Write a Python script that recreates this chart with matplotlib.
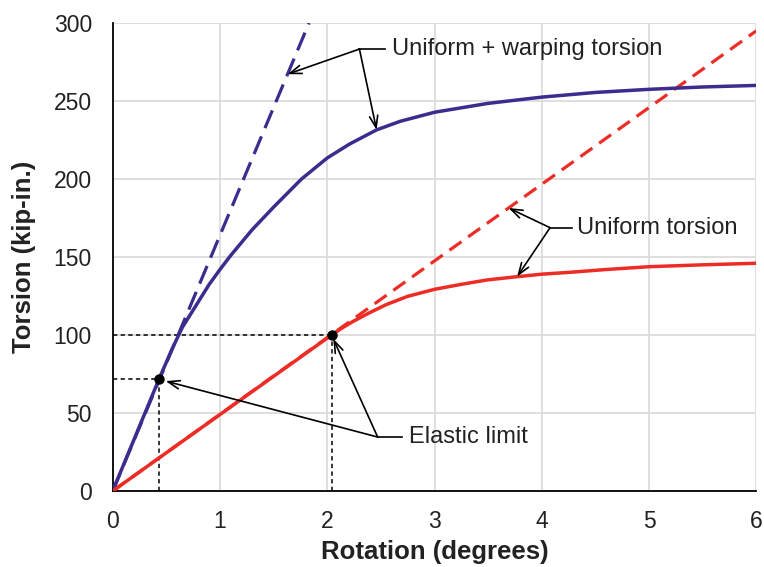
import numpy as np
import matplotlib
matplotlib.use("Agg")
import matplotlib.pyplot as plt

plt.rcParams['font.family'] = ['Liberation Sans', 'DejaVu Sans']

# Uniform + warping torsion (solid) and its elastic extension (dashed)
theta_uw = [0, 0.431, 0.55, 0.65, 0.8, 0.9, 1.0, 1.1, 1.3, 1.5, 1.76, 2.0, 2.21,
            2.46, 2.68, 3.0, 3.5, 4.0, 4.5, 5.0, 5.5, 6.0]
torsion_uw = [0, 71.6, 90.5, 105, 121.5, 132.5, 142, 151, 167.5, 182, 200, 213.5, 222.5,
              231.5, 237, 242.8, 248.5, 252.5, 255.5, 257.5, 259, 260]
theta_uw_el = [0, 1.83]
torsion_uw_el = [0, 300]

# Uniform torsion (solid) and its elastic extension (dashed)
theta_u = [0, 2.04, 2.14, 2.243, 2.4, 2.55, 2.75, 3.0, 3.25, 3.49, 3.77, 4.0,
           4.26, 4.6, 5.0, 5.5, 6.0]
torsion_u = [0, 100, 104.6, 108.8, 114.5, 119.5, 124.8, 129.3, 132.5, 135.3, 137.4, 139,
             140.2, 142, 143.8, 145, 146]
theta_u_el = [0, 6.0]
torsion_u_el = [0, 295]

# elastic limits
elastic_theta = [0.431, 2.04]
elastic_torsion = [71.6, 100]

x_ticks = [0, 1, 2, 3, 4, 5, 6]
y_ticks = [0, 50, 100, 150, 200, 250, 300]

blue = '#3b2c8e'
red = '#ee2c26'

fig = plt.figure(figsize=(7.64, 5.67), dpi=100)
ax = fig.add_axes([0.1475, 0.134, 0.8425, 0.8254])

ax.plot(theta_uw_el, torsion_uw_el, color=blue, lw=2.3, dashes=(6, 2.8), zorder=3)
ax.plot(theta_u_el, torsion_u_el, color=red, lw=2.3, dashes=(4.6, 2.6), zorder=3)
ax.plot(theta_uw, torsion_uw, color=blue, lw=2.5, zorder=4, solid_joinstyle='round')
ax.plot(theta_u, torsion_u, color=red, lw=2.5, zorder=4, solid_joinstyle='round')

# dashed guides to the elastic limits
for tx, ty in zip(elastic_theta, elastic_torsion):
    ax.plot([0, tx], [ty, ty], color='black', lw=1.1, dashes=(2.8, 2.2), zorder=2)
    ax.plot([tx, tx], [0, ty], color='black', lw=1.1, dashes=(2.8, 2.2), zorder=2)
ax.plot(elastic_theta, elastic_torsion, 'o', color='black', ms=6.5, zorder=6)

ax.set_xlim(0, 6)
ax.set_ylim(0, 300)
ax.set_xticks(x_ticks)
ax.set_yticks(y_ticks)
ax.tick_params(length=0, labelsize=16.5, colors='#222222')
ax.tick_params(axis='x', pad=14)
ax.tick_params(axis='y', pad=15)
ax.grid(True, color='#d9d9d9', lw=1.2)
ax.set_axisbelow(True)
ax.spines['top'].set_visible(False)
ax.spines['right'].set_visible(False)
ax.spines['left'].set_linewidth(1.3)
ax.spines['bottom'].set_linewidth(1.3)

ax.set_xlabel('Rotation (degrees)', fontsize=18.5, fontweight='bold', color='#222222')
ax.set_ylabel('Torsion (kip-in.)', fontsize=18.5, fontweight='bold', color='#222222')
ax.xaxis.set_label_coords(0.5, -0.104)
ax.yaxis.set_label_coords(-0.119, 0.5)

arrow = dict(arrowstyle='->,head_length=0.7,head_width=0.25', color='black',
             lw=1.2, mutation_scale=12, shrinkA=0)


def callout(text, junction, text_x, line_end_x, targets, shrinks):
    jx, jy = junction
    ax.plot([jx, line_end_x], [jy, jy], color='black', lw=1.2, zorder=5)
    ax.text(text_x, jy, text, fontsize=17, va='center', ha='left', color='#222222')
    for (tx, ty), s in zip(targets, shrinks):
        ax.annotate('', xy=(tx, ty), xytext=(jx, jy),
                    arrowprops=dict(arrow, shrinkB=s), zorder=5)


callout('Uniform + warping torsion', (2.30, 283.3), 2.60, 2.54,
        [(1.63, np.interp(1.63, theta_uw_el, torsion_uw_el)),
         (2.46, np.interp(2.46, theta_uw, torsion_uw))], [0, 0])
callout('Uniform torsion', (4.077, 168.8), 4.33, 4.28,
        [(3.69, np.interp(3.69, theta_u_el, torsion_u_el)),
         (3.77, np.interp(3.77, theta_u, torsion_u))], [0, 0])
callout('Elastic limit', (2.47, 34.6), 2.76, 2.70,
        list(zip(elastic_theta, elastic_torsion)), [5, 3])

fig.savefig('out.png', dpi=100)
